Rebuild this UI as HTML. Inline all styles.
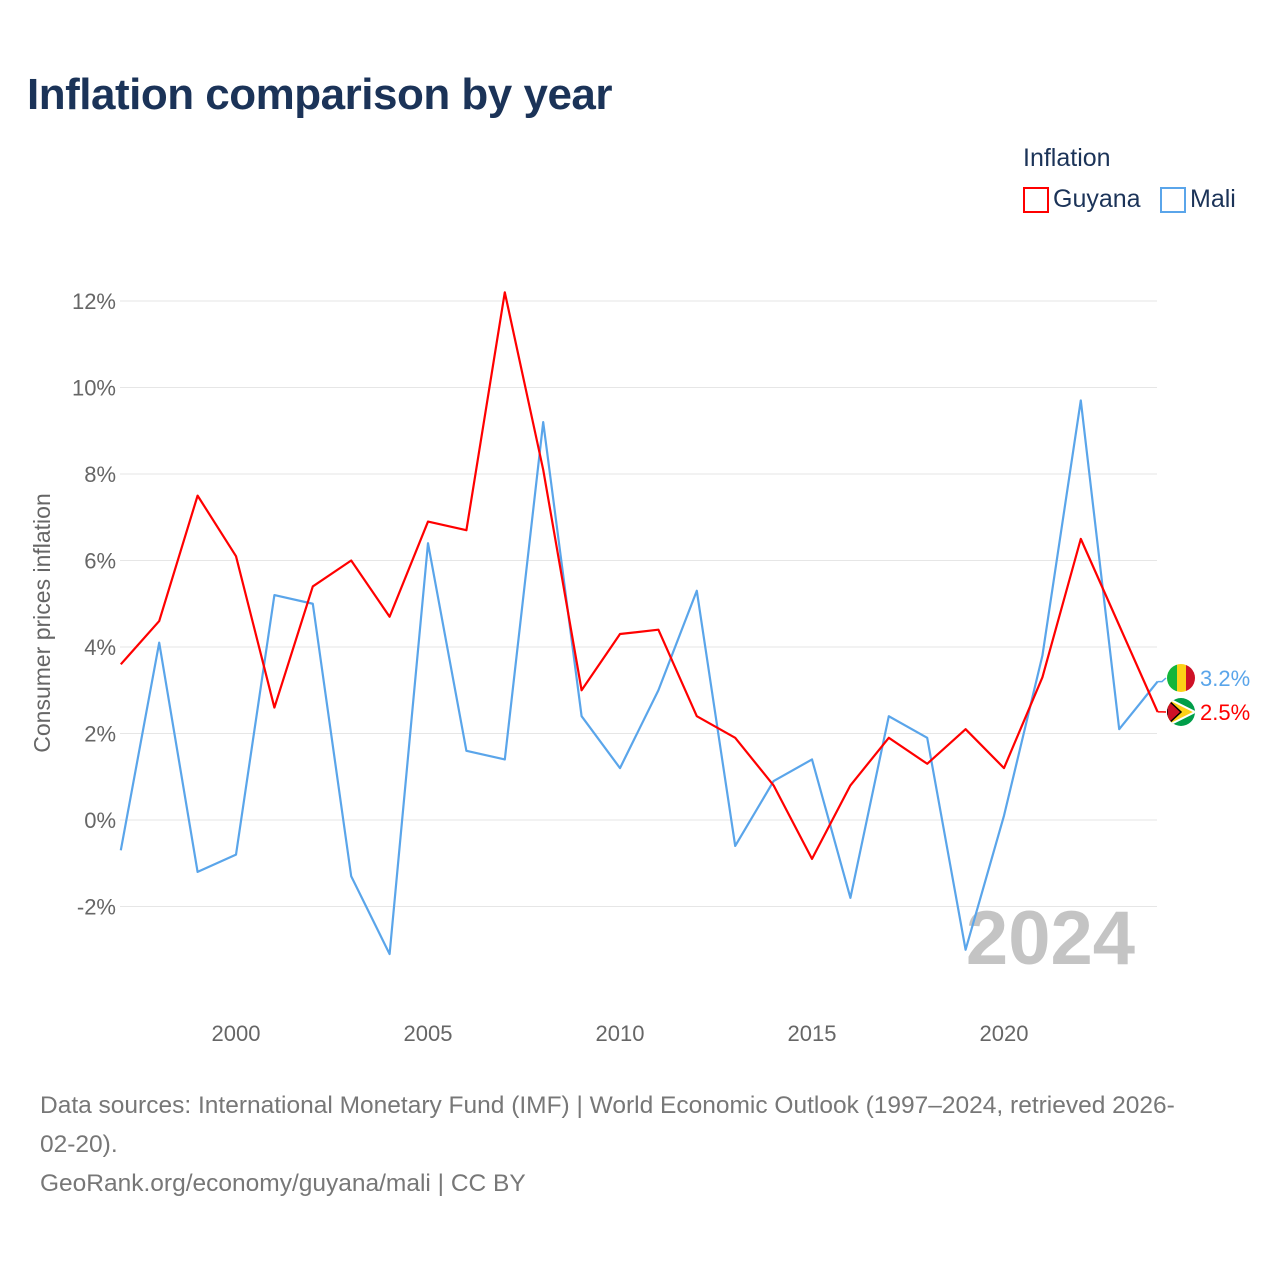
<!DOCTYPE html>
<html><head><meta charset="utf-8">
<style>
body{margin:0;background:#fff;font-family:"Liberation Sans",sans-serif;}
#wrap{position:relative;width:1280px;height:1280px;overflow:hidden;}
.t{position:absolute;white-space:nowrap;}
</style></head><body>
<div id="wrap">
<div class="t" style="left:27px;top:70px;font-size:44px;font-weight:bold;color:#1b3358;letter-spacing:-0.5px;">Inflation comparison by year</div>
<div class="t" style="left:1023px;top:144px;font-size:25px;color:#1b3358;">Inflation</div>
<div style="position:absolute;left:1023px;top:187px;">
<div style="position:absolute;left:0;top:0;width:22px;height:22px;border:2px solid #f00;"></div>
<div class="t" style="left:30px;top:-2px;font-size:25px;color:#1b3358;">Guyana</div></div>
<div style="position:absolute;left:1160px;top:187px;">
<div style="position:absolute;left:0;top:0;width:22px;height:22px;border:2px solid #5aa5ea;"></div>
<div class="t" style="left:30px;top:-2px;font-size:25px;color:#1b3358;">Mali</div></div>
<svg id="chart" width="1280" height="1280" style="position:absolute;left:0;top:0"></svg>
<div class="t" style="left:40px;top:1086px;font-size:24.5px;line-height:39px;color:#777;">Data sources: International Monetary Fund (IMF) | World Economic Outlook (1997–2024, retrieved 2026-<br>02-20).<br>GeoRank.org/economy/guyana/mali | CC BY</div>
</div>
<script>
const years=[1997,1998,1999,2000,2001,2002,2003,2004,2005,2006,2007,2008,2009,2010,2011,2012,2013,2014,2015,2016,2017,2018,2019,2020,2021,2022,2023,2024];
const guyana=[3.6,4.6,7.5,6.1,2.6,5.4,6.0,4.7,6.9,6.7,12.2,8.1,3.0,4.3,4.4,2.4,1.9,0.8,-0.9,0.8,1.9,1.3,2.1,1.2,3.3,6.5,4.5,2.5];
const mali=[-0.7,4.1,-1.2,-0.8,5.2,5.0,-1.3,-3.1,6.4,1.6,1.4,9.2,2.4,1.2,3.0,5.3,-0.6,0.9,1.4,-1.8,2.4,1.9,-3.0,0.1,3.8,9.7,2.1,3.2];
const yTicks=[-2,0,2,4,6,8,10,12];
const xTicks=[2000,2005,2010,2015,2020];
const NS="http://www.w3.org/2000/svg";
const svg=document.getElementById('chart');
const X=y=>120.8+(y-1997)*38.4;
const Y=v=>820-v*43.25;
function el(t,a,p){const e=document.createElementNS(NS,t);for(const k in a)e.setAttribute(k,a[k]);(p||svg).appendChild(e);return e;}
yTicks.forEach(v=>{
 const g=el('line',{x1:120,x2:1157,y1:Y(v),y2:Y(v),stroke:'#e6e6e6','stroke-width':1});
 
 
 const t=el('text',{x:116,y:Y(v)+8,'text-anchor':'end','font-size':22,fill:'#666','font-family':'Liberation Sans, sans-serif'});
 t.textContent=v+'%';
 
 
});
xTicks.forEach(yr=>{
 const t=el('text',{x:X(yr),y:1041,'text-anchor':'middle','font-size':22,fill:'#666','font-family':'Liberation Sans, sans-serif'});
 t.textContent=yr;
 
 
});
const yt=el('text',{x:0,y:0,transform:'translate(50,623) rotate(-90)','text-anchor':'middle','font-size':23,fill:'#666','font-family':'Liberation Sans, sans-serif'});
yt.textContent='Consumer prices inflation';


const wm=el('text',{x:1135,y:964,'text-anchor':'end','font-size':76,'font-weight':'bold',fill:'#c4c4c4','font-family':'Liberation Sans, sans-serif'});
wm.textContent='2024';


function series(vals,color,name){
 const p=el('polyline',{points:vals.map((v,i)=>X(years[i])+','+Y(v)).join(' '),fill:'none',stroke:color,'stroke-width':2.2,'stroke-linejoin':'round'});
 
 
}
series(mali,'#5aa5ea','mali-line');
series(guyana,'#f00','guyana-line');
function endLabel(v,ly,color,name,flag){
 const x0=X(2024),y0=Y(v);
 const c=el('polyline',{points:`${x0},${y0} 1162,${y0} 1166,${ly}`,fill:'none',stroke:color,'stroke-width':1.5});
 
 
 flag(1181,ly);
 const t=el('text',{x:1200,y:ly+8,'font-size':22,fill:color,'font-family':'Liberation Sans, sans-serif'});
 t.textContent=v.toFixed(1)+'%';
 
 
}
function maliFlag(cx,cy){
 const g=el('g',{});
 
 
 el('clipPath',{id:'cm'},g);
 el('circle',{cx,cy,r:14},g.lastChild);
 const gg=el('g',{'clip-path':'url(#cm)'},g);
 el('rect',{x:cx-14,y:cy-14,width:10,height:28,fill:'#14b53a'},gg);
 el('rect',{x:cx-4,y:cy-14,width:9,height:28,fill:'#fcd116'},gg);
 el('rect',{x:cx+5,y:cy-14,width:10,height:28,fill:'#ce1126'},gg);
}
function guyFlag(cx,cy){
 const g=el('g',{});
 
 
 el('clipPath',{id:'cg'},g);
 el('circle',{cx,cy,r:14},g.lastChild);
 const gg=el('g',{'clip-path':'url(#cg)'},g);
 el('rect',{x:cx-14,y:cy-14,width:28,height:28,fill:'#009e49'},gg);
 el('polygon',{points:`${cx-14},${cy-14} ${cx+14},${cy} ${cx-14},${cy+14}`,fill:'#fcd116',stroke:'#fff','stroke-width':2},gg);
 el('polygon',{points:`${cx-14},${cy-13} ${cx},${cy} ${cx-14},${cy+13}`,fill:'#ce1126',stroke:'#000','stroke-width':1.5},gg);
}
endLabel(mali[mali.length-1],678,'#5aa5ea','mali',maliFlag);
endLabel(guyana[guyana.length-1],712,'#f00','guyana',guyFlag);
</script>
</body></html>
